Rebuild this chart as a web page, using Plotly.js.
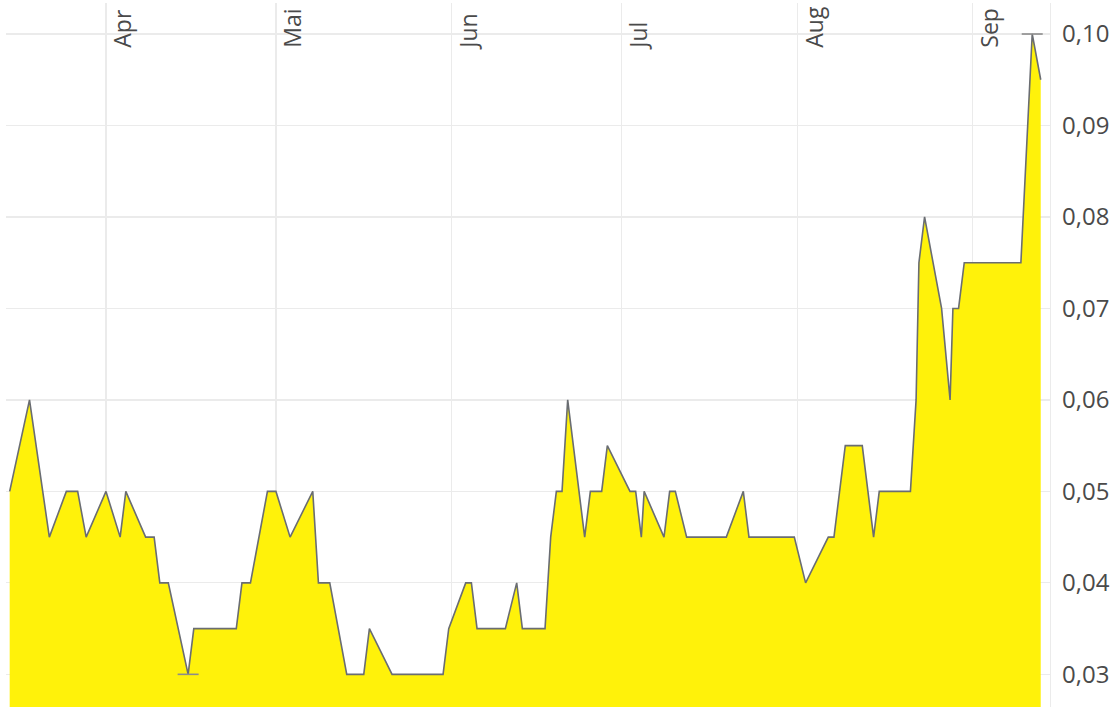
<!DOCTYPE html>
<html>
<head>
<meta charset="utf-8">
<script src="https://cdn.plot.ly/plotly-3.0.1.min.js"></script>
<style>
  html, body { margin: 0; padding: 0; background: #fff; }
  #chart { width: 1119px; height: 707px; }
</style>
</head>
<body>
<div id="chart"></div>
<script>
const dates = [
  '2021-03-15 00:00', '2021-03-18 12:00', '2021-03-22 00:00', '2021-03-25 00:00',
  '2021-03-27 00:00', '2021-03-28 12:00', '2021-04-01 00:00', '2021-04-03 12:00',
  '2021-04-04 12:00', '2021-04-08 00:00', '2021-04-09 12:00', '2021-04-10 12:00',
  '2021-04-12 00:00', '2021-04-15 12:00', '2021-04-16 12:00', '2021-04-24 00:00',
  '2021-04-25 00:00', '2021-04-26 12:00', '2021-04-29 12:00', '2021-05-01 00:00',
  '2021-05-03 12:00', '2021-05-07 12:00', '2021-05-08 12:00', '2021-05-10 12:00',
  '2021-05-13 12:00', '2021-05-16 12:00', '2021-05-17 12:00', '2021-05-21 12:00',
  '2021-05-30 12:00', '2021-05-31 12:00', '2021-06-03 12:00', '2021-06-04 12:00',
  '2021-06-05 12:00', '2021-06-10 12:00', '2021-06-12 12:00', '2021-06-13 12:00',
  '2021-06-17 12:00', '2021-06-18 12:00', '2021-06-19 12:00', '2021-06-20 12:00',
  '2021-06-21 12:00', '2021-06-24 12:00', '2021-06-25 12:00', '2021-06-27 12:00',
  '2021-06-28 12:00', '2021-07-02 12:00', '2021-07-03 12:00', '2021-07-04 12:00',
  '2021-07-05 00:00', '2021-07-08 12:00', '2021-07-09 12:00', '2021-07-10 12:00',
  '2021-07-12 12:00', '2021-07-19 12:00', '2021-07-22 12:00', '2021-07-23 12:00',
  '2021-07-31 12:00', '2021-08-02 12:00', '2021-08-06 12:00', '2021-08-07 12:00',
  '2021-08-09 12:00', '2021-08-12 12:00', '2021-08-14 12:00', '2021-08-15 12:00',
  '2021-08-21 00:00', '2021-08-22 00:00', '2021-08-22 12:00', '2021-08-23 12:00',
  '2021-08-26 12:00', '2021-08-28 00:00', '2021-08-28 12:00', '2021-08-29 12:00',
  '2021-08-30 12:00', '2021-09-09 12:00', '2021-09-11 12:00', '2021-09-13 00:00'
];
const prices = [
  0.05, 0.06, 0.045, 0.05,
  0.05, 0.045, 0.05, 0.045,
  0.05, 0.045, 0.045, 0.04,
  0.04, 0.03, 0.035, 0.035,
  0.04, 0.04, 0.05, 0.05,
  0.045, 0.05, 0.04, 0.04,
  0.03, 0.03, 0.035, 0.03,
  0.03, 0.035, 0.04, 0.04,
  0.035, 0.035, 0.04, 0.035,
  0.035, 0.045, 0.05, 0.05,
  0.06, 0.045, 0.05, 0.05,
  0.055, 0.05, 0.05, 0.045,
  0.05, 0.045, 0.05, 0.05,
  0.045, 0.045, 0.05, 0.045,
  0.045, 0.04, 0.045, 0.045,
  0.055, 0.055, 0.045, 0.05,
  0.05, 0.06, 0.075, 0.08,
  0.07, 0.06, 0.07, 0.07,
  0.075, 0.075, 0.10, 0.095
];
const monthTicks = ['2021-04-01', '2021-05-01', '2021-06-01', '2021-07-01', '2021-08-01', '2021-09-01'];
const monthLabels = ['Apr', 'Mai', 'Jun', 'Jul', 'Aug', 'Sep'];
const yTicks = [0.03, 0.04, 0.05, 0.06, 0.07, 0.08, 0.09, 0.10];

// min / max markers derived from the data
let iMin = 0, iMax = 0;
prices.forEach((p, i) => {
  if (p < prices[iMin]) iMin = i;
  if (p > prices[iMax]) iMax = i;
});

const area = {
  type: 'scatter',
  mode: 'lines',
  x: dates,
  y: prices,
  fill: 'tozeroy',
  fillcolor: 'rgba(255,241,0,0.96)',
  line: { color: '#6a6d72', width: 1.6, shape: 'linear' },
  hoverinfo: 'x+y',
  showlegend: false
};
const extremes = {
  type: 'scatter',
  mode: 'markers',
  x: [dates[iMin], dates[iMax]],
  y: [prices[iMin], prices[iMax]],
  marker: { symbol: 'line-ew', size: 15, color: '#8c8c8c', line: { color: '#8c8c8c', width: 1.6 } },
  hoverinfo: 'skip',
  showlegend: false
};

const layout = {
  width: 1119,
  height: 707,
  margin: { l: 6, r: 69, t: 3, b: 0, pad: 0 },
  paper_bgcolor: '#fff',
  plot_bgcolor: '#fff',
  separators: ',.',
  font: { family: 'Open Sans, sans-serif', size: 23, color: '#4a4a4a' },
  showlegend: false,
  xaxis: {
    type: 'date',
    side: 'top',
    anchor: 'free',
    position: 0.9365,
    range: ['2021-03-14 08:24', '2021-09-14 15:20'],
    tickvals: monthTicks,
    ticktext: monthLabels,
    tickangle: -90,
    ticklabelposition: 'outside',
    ticklabelshift: 18,
    ticks: '',
    showgrid: true,
    gridcolor: '#ebebeb',
    gridwidth: 1.2,
    zeroline: false,
    showline: false,
    automargin: false,
    tickfont: { family: 'Open Sans, sans-serif', size: 23, color: '#4a4a4a' }
  },
  yaxis: {
    side: 'right',
    range: [0.02643, 0.10339],
    tickvals: yTicks,
    tickformat: '.2f',
    ticks: '',
    ticklabelstandoff: 6,
    showgrid: true,
    gridcolor: '#ebebeb',
    gridwidth: 1.2,
    zeroline: false,
    showline: true,
    linecolor: '#ebebeb',
    linewidth: 1.2,
    automargin: false,
    tickfont: { family: 'Open Sans, sans-serif', size: 24, color: '#4a4a4a' }
  }
};

Plotly.newPlot('chart', [area, extremes], layout, { displayModeBar: false, staticPlot: true });
</script>
</body>
</html>
